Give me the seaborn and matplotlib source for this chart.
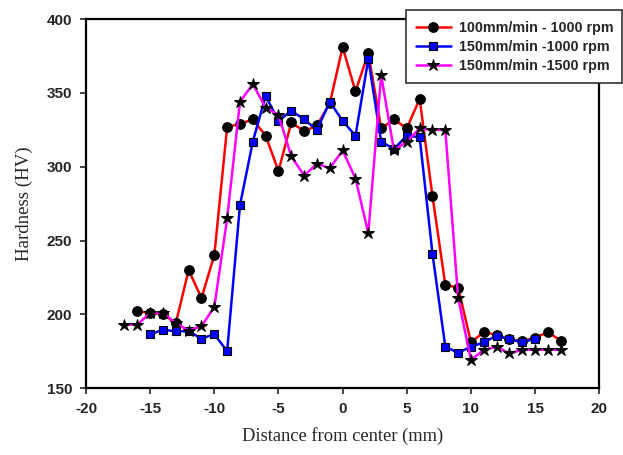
import matplotlib
matplotlib.use("Agg")
import matplotlib.pyplot as plt
import seaborn as sns
import pandas as pd

sns.set_style("ticks")
plt.rcParams["axes.unicode_minus"] = False

# Series
red_x = list(range(-16, 18))
red_y = [202, 201, 200, 194, 230, 211, 240, 327, 329, 332, 321, 297, 330, 324, 328, 343,
         381, 351, 377, 326, 332, 326, 346, 280, 220, 218, 181, 188, 186, 183, 182, 184, 188, 182]

blue_x = list(range(-15, 16))
blue_y = [186.5, 189.5, 188.5, 188.5, 183.5, 186.5, 175, 274, 317, 348, 331, 338, 332, 325, 344,
          331, 321, 373, 317, 312, 321, 320, 241, 178, 174, 178, 181, 185.5, 183, 181, 183.5]

mag_x = list(range(-17, 18))
mag_y = [193, 193, 201, 201, 194, 189, 192, 205, 265, 344, 356, 340, 335, 307, 294, 302, 299,
         311, 292, 255, 362, 311, 317, 326, 325, 325, 211, 169, 176, 178, 173.5, 176, 176, 176, 176]

labels = ["100mm/min - 1000 rpm", "150mm/min -1000 rpm", "150mm/min -1500 rpm"]

df_red = pd.DataFrame({"x": red_x, "y": red_y})
df_blue = pd.DataFrame({"x": blue_x, "y": blue_y})
df_mag = pd.DataFrame({"x": mag_x, "y": mag_y})

fig = plt.figure(figsize=(6.23, 4.55), dpi=100)
ax = fig.add_axes([0.138, 0.147, 0.824, 0.811])

sns.lineplot(data=df_red, x="x", y="y", ax=ax, color="#ff0000", lw=1.8, marker="o",
             markersize=7, markerfacecolor="black", markeredgecolor="black", label=labels[0])
sns.lineplot(data=df_blue, x="x", y="y", ax=ax, color="#0000ff", lw=1.8, marker="s",
             markersize=5.5, markerfacecolor="#0000ff", markeredgecolor="black",
             markeredgewidth=0.8, label=labels[1])
sns.lineplot(data=df_mag, x="x", y="y", ax=ax, color="#ff00ff", lw=1.8, marker="*",
             markersize=9, markerfacecolor="black", markeredgecolor="black", label=labels[2])

ax.set_xlim(-20, 20)
ax.set_ylim(150, 400)
ax.set_xticks(range(-20, 21, 5))
ax.set_yticks(range(150, 401, 50))
for s in ax.spines.values():
    s.set_linewidth(1.6)
    s.set_color("black")
ax.tick_params(direction="out", length=4, width=1.2, pad=6)
for t in ax.get_xticklabels() + ax.get_yticklabels():
    t.set_fontfamily("Liberation Sans")
    t.set_fontweight("bold")
    t.set_fontsize(11)

ax.set_xlabel("Distance from center (mm)", fontfamily="Liberation Serif", fontsize=13.3, labelpad=8)
ax.set_ylabel("Hardness (HV)", fontfamily="Liberation Serif", fontsize=13.6, labelpad=10)

leg = ax.legend(loc="upper left", bbox_to_anchor=(0.651, 0.818, 0.347, 0.16),
                bbox_transform=fig.transFigure, mode="expand", fancybox=False,
                framealpha=1, edgecolor="#333333", handlelength=2.4,
                prop={"family": "Liberation Sans", "weight": "bold", "size": 10.3},
                borderaxespad=0, borderpad=0.75, labelspacing=0.35, handletextpad=0.6)
leg.get_frame().set_linewidth(1.2)

fig.savefig("out.png", dpi=100)
